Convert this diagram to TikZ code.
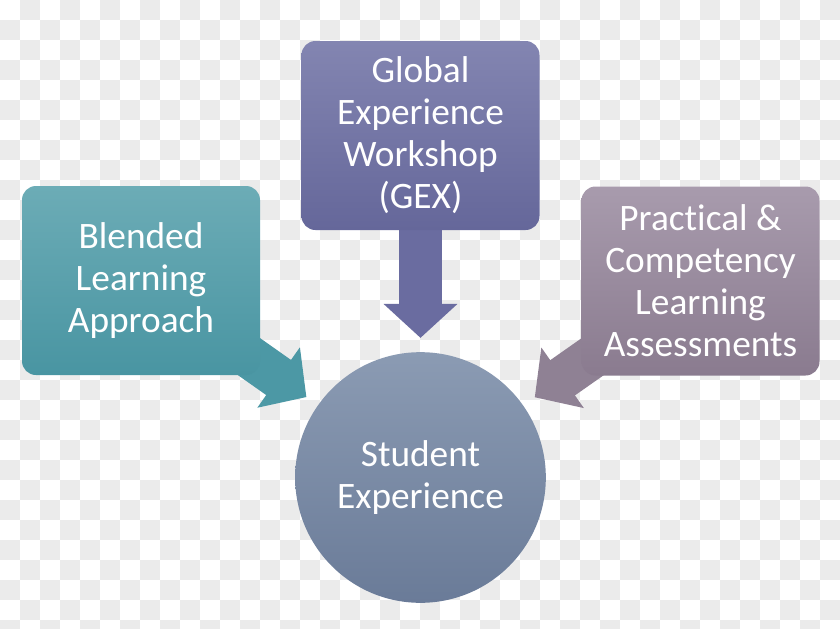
\documentclass[tikz,border=0pt]{standalone}
\usepackage{fontspec}
\setmainfont[Ligatures=NoCommon]{Carlito}
\usetikzlibrary{positioning,calc,backgrounds,arrows.meta}
\definecolor{scacco}{RGB}{235,235,235}
\definecolor{tealSu}{RGB}{108,172,182}
\definecolor{tealGiu}{RGB}{73,149,162}
\definecolor{tealFr}{RGB}{76,152,165}
\definecolor{bluSu}{RGB}{131,133,177}
\definecolor{bluGiu}{RGB}{101,103,154}
\definecolor{bluFr}{RGB}{106,108,160}
\definecolor{malvaSu}{RGB}{168,155,173}
\definecolor{malvaGiu}{RGB}{138,123,143}
\definecolor{malvaFr}{RGB}{143,129,148}
\definecolor{cerchioSu}{RGB}{139,155,179}
\definecolor{cerchioGiu}{RGB}{106,123,152}
\tikzset{
    mappa/.style={
        x=0.75pt, y=-0.75pt,
        % Stile per i riquadri (rettangolo arrotondato)
        riquadro/.style={rectangle, rounded corners=10.5pt, align=center,
                         minimum width=178.5pt, minimum height=141.75pt,
                         inner sep=2pt, text=white,
                         font=\fontsize{28}{31.5}\selectfont},
        % Stile per il cerchio centrale
        centro/.style={circle, align=center, minimum size=188pt,
                       inner sep=0pt, text=white,
                       top color=cerchioSu, bottom color=cerchioGiu,
                       font=\fontsize{28}{31.5}\selectfont},
        % Stile per le frecce (freccia piena)
        freccia/.style={line width=32.25pt,
                        -{Triangle[width=54pt,length=25.5pt]},
                        shorten >=10.5pt}
    }
}

\begin{document}
\begin{tikzpicture}[mappa]
    \useasboundingbox (0,0) rectangle (840,629);
    % sfondo a scacchi
    \begin{scope}[on background layer]
        \clip (0,0) rectangle (840,629);
        \fill[white] (0,0) rectangle (840,629);
        \foreach \i in {0,40,...,800}
            \foreach \j in {0,40,...,600} {
                \fill[scacco] (\i+20,\j) rectangle +(20,20);
                \fill[scacco] (\i,\j+20) rectangle +(20,20);
            }
    \end{scope}

    \node[riquadro, top color=bluSu, bottom color=bluGiu] (gex) at (420.5,135.5)
        {Global\\Experience\\Workshop\\(GEX)};
    \node[riquadro, top color=tealSu, bottom color=tealGiu] (blended) at (141,280.5)
        {Blended\\Learning\\Approach};
    \node[riquadro, top color=malvaSu, bottom color=malvaGiu] (pratica) at (700.5,281)
        {Practical \&\\Competency\\Learning\\Assessments};
    \node[centro] (studente) at (420.5,477.5) {Student\\Experience};

    \begin{scope}[on background layer]
        \draw[freccia, draw=bluFr, fill=bluFr] (gex.center) -- (studente);
        \draw[freccia, draw=tealFr, fill=tealFr] (blended.center) -- (studente);
        \draw[freccia, draw=malvaFr, fill=malvaFr] (pratica.center) -- (studente);
    \end{scope}
\end{tikzpicture}
\end{document}
